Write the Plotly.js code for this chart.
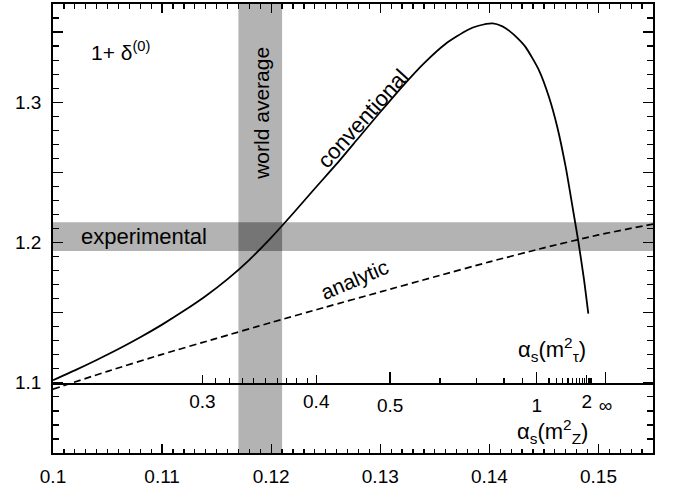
<!DOCTYPE html>
<html>
<head>
<meta charset="utf-8">
<script src="https://cdn.plot.ly/plotly-3.0.1.min.js"></script>
<style>html,body{margin:0;padding:0;background:#fff;} #chart{width:673px;height:487px;}</style>
</head>
<body>
<div id="chart"></div>
<script>
// ---- data ----
const convX = [0.100, 0.102, 0.104, 0.106, 0.108, 0.110, 0.112, 0.114, 0.116, 0.118, 0.120, 0.122, 0.124, 0.126, 0.128, 0.130, 0.132, 0.134, 0.136, 0.138, 0.139, 0.1403, 0.1412, 0.1418, 0.1426, 0.14334, 0.14456, 0.14547, 0.14623, 0.14700, 0.14760, 0.14815, 0.14867, 0.14907];
const convY = [1.1019, 1.1089, 1.1163, 1.1241, 1.1325, 1.1415, 1.1513, 1.1619, 1.1739, 1.1877, 1.2035, 1.2207, 1.2385, 1.2560, 1.2745, 1.2930, 1.3110, 1.3277, 1.3417, 1.3515, 1.3545, 1.3562, 1.3541, 1.3510, 1.3455, 1.3391, 1.3226, 1.3036, 1.2822, 1.2537, 1.2265, 1.2010, 1.1740, 1.1494];
const anaX = [0.100, 0.105, 0.110, 0.115, 0.120, 0.125, 0.130, 0.135, 0.140, 0.145, 0.150, 0.155];
const anaY = [1.0955, 1.1082, 1.1203, 1.1317, 1.1430, 1.1540, 1.1648, 1.1756, 1.1862, 1.1962, 1.2054, 1.2132];
const worldAverage = [0.117, 0.121];      // alpha_s(mZ) band
const experimental = [1.194, 1.2145];     // 1+delta band

// bottom axis alpha_s(mZ^2)
const zTickVals = [0.10, 0.11, 0.12, 0.13, 0.14, 0.15];
const zTickText = ['0.1', '0.11', '0.12', '0.13', '0.14', '0.15'];
// y axis
const yTickVals = [1.1, 1.2, 1.3];
const yTickText = ['1.1', '1.2', '1.3'];
const yHalfTicks = [1.05, 1.15, 1.25, 1.35];
// middle axis alpha_s(m_tau^2): positions on the alpha_s(mZ^2) scale
const tauLongPos = [0.13090, 0.14435, 0.15064];
const tauLongText = ['0.5', '1', '\u221e'];
const tauMedPos = [0.11370, 0.12413, 0.14892];
const tauMedText = ['0.3', '0.4', '2'];
const tauMinorPos = [0.11491, 0.11619, 0.11736, 0.11839, 0.11949, 0.12056, 0.12144, 0.12235, 0.12330,
                     0.13547, 0.13882, 0.14135, 0.14303,
                     0.14547, 0.14614, 0.14671, 0.14721, 0.14762, 0.14797, 0.14826, 0.14852, 0.14874,
                     0.14909, 0.14922, 0.14938];

const FONT = 'Liberation Sans, Arial, sans-serif';
const xRange = [0.1, 0.155];
const yRange = [1.05, 1.37];
const midPos = (1.1 - yRange[0]) / (yRange[1] - yRange[0]);

const traces = [
  {x: convX, y: convY, type: 'scatter', mode: 'lines',
   line: {color: '#000', width: 1.8, shape: 'spline', smoothing: 0.6}, hoverinfo: 'skip'},
  {x: anaX, y: anaY, type: 'scatter', mode: 'lines',
   line: {color: '#000', width: 1.7, dash: '7px,4px', shape: 'spline', smoothing: 0.6}, hoverinfo: 'skip'},
  {x: tauLongPos, y: tauLongPos.map(() => 1.1), xaxis: 'x2', yaxis: 'y', type: 'scatter', mode: 'none', hoverinfo: 'skip'},
  {x: tauMedPos, y: tauMedPos.map(() => 1.1), xaxis: 'x3', yaxis: 'y', type: 'scatter', mode: 'none', hoverinfo: 'skip'},
  {x: yHalfTicks.map(() => 0.12), y: yHalfTicks, xaxis: 'x', yaxis: 'y2', type: 'scatter', mode: 'none', hoverinfo: 'skip'}
];

const gray = '#b3b3b3', dark = '#757575';
const shapes = [
  {type: 'rect', xref: 'x', yref: 'paper', x0: worldAverage[0], x1: worldAverage[1], y0: 0, y1: 1,
   fillcolor: gray, line: {width: 0}, layer: 'below'},
  {type: 'rect', xref: 'paper', yref: 'y', x0: 0, x1: 1, y0: experimental[0], y1: experimental[1],
   fillcolor: gray, line: {width: 0}, layer: 'below'},
  {type: 'rect', xref: 'x', yref: 'y', x0: worldAverage[0], x1: worldAverage[1], y0: experimental[0], y1: experimental[1],
   fillcolor: dark, line: {width: 0}, layer: 'below'}
];

const ann = (text, x, y, size, extra) => Object.assign({
  text: text, x: x, y: y, xref: 'x', yref: 'y', showarrow: false,
  font: {family: FONT, size: size, color: '#000'}
}, extra || {});

const tickFont = {family: FONT, size: 19, color: '#000'};

const annotations = [
  ann('1+ \u03b4<sup>(0)</sup>', 0.1033, 1.3365, 21, {xanchor: 'left'}),
  ann('world average', 0.1191, 1.292, 21, {textangle: -90}),
  ann('experimental', 0.1083, 1.2045, 22),
  ann('conventional', 0.1284, 1.2885, 22, {textangle: -48}),
  ann('analytic', 0.1276, 1.1735, 21, {textangle: -23}),
  ann('\u03b1<sub>s</sub>(m<sup>2</sup><sub>\u03c4</sub>)', 0.14575, 1.1235, 22),
  ann('\u03b1<sub>s</sub>(m<sup>2</sup><sub>Z</sub>)', 0.14575, 1.0650, 22)
].concat(yTickVals.map((v, i) => ({
  text: yTickText[i], x: -0.016, xref: 'paper', xanchor: 'right', y: v, yref: 'y', yanchor: 'middle',
  showarrow: false, font: tickFont
})));

const layout = {
  width: 673, height: 487,
  margin: {l: 53, r: 20, t: 4, b: 34},
  paper_bgcolor: '#fff', plot_bgcolor: '#fff',
  showlegend: false,
  font: {family: FONT, color: '#000', size: 19},
  xaxis: {
    range: xRange, showgrid: false, zeroline: false,
    showline: true, linecolor: '#000', linewidth: 2, mirror: 'ticks',
    ticks: 'inside', ticklen: 9, tickwidth: 1.3, tickcolor: '#000',
    tickmode: 'array', tickvals: zTickVals, ticktext: zTickText,
    tickfont: tickFont, ticklabelstandoff: 5,
    minor: {dtick: 0.001, tick0: 0.1, ticks: 'inside', ticklen: 4.5, tickwidth: 1.2, tickcolor: '#000', showgrid: false}
  },
  xaxis2: {
    range: xRange, overlaying: 'x', anchor: 'free', position: midPos, side: 'bottom',
    showgrid: false, zeroline: false,
    showline: true, linecolor: '#000', linewidth: 1.8,
    ticks: 'inside', ticklen: 11, tickwidth: 1.3, tickcolor: '#000',
    tickmode: 'array', tickvals: tauLongPos, ticktext: tauLongText,
    tickfont: tickFont, ticklabelstandoff: 5,
    minor: {tickmode: 'array', tickvals: tauMinorPos, ticks: 'inside', ticklen: 5, tickwidth: 1.2, tickcolor: '#000', showgrid: false}
  },
  xaxis3: {
    range: xRange, overlaying: 'x', anchor: 'free', position: midPos, side: 'bottom',
    showgrid: false, zeroline: false, showline: false,
    ticks: 'inside', ticklen: 7.5, tickwidth: 1.3, tickcolor: '#000',
    tickmode: 'array', tickvals: tauMedPos, ticktext: tauMedText,
    tickfont: tickFont, ticklabelstandoff: 5
  },
  yaxis: {
    range: yRange, showgrid: false, zeroline: false,
    showline: true, linecolor: '#000', linewidth: 2, mirror: 'ticks',
    ticks: 'inside', ticklen: 10, tickwidth: 1.3, tickcolor: '#000',
    tickmode: 'array', tickvals: yTickVals, showticklabels: false,
    minor: {dtick: 0.01, tick0: 1.0, ticks: 'inside', ticklen: 6, tickwidth: 1.2, tickcolor: '#000', showgrid: false}
  },
  yaxis2: {
    range: yRange, overlaying: 'y', anchor: 'x', side: 'left',
    showgrid: false, zeroline: false, showline: false, mirror: 'ticks',
    ticks: 'inside', ticklen: 10, tickwidth: 1.3, tickcolor: '#000',
    tickmode: 'array', tickvals: yHalfTicks, showticklabels: false
  },
  shapes: shapes,
  annotations: annotations
};

Plotly.newPlot('chart', traces, layout, {staticPlot: true, displayModeBar: false});
</script>
</body>
</html>
